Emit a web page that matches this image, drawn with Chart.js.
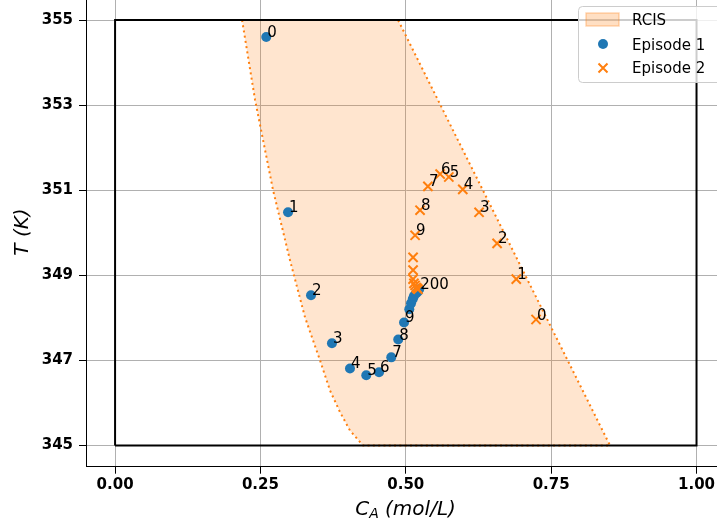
<!DOCTYPE html>
<html>
<head>
<meta charset="utf-8">
<script src="https://cdn.jsdelivr.net/npm/chart.js@4.4.1/dist/chart.umd.min.js"></script>
<style>
  html, body { margin: 0; padding: 0; overflow: hidden; background: #fff; width: 717px; height: 524px; }
  #wrap { position: absolute; left: 0; top: -10px; width: 760px; height: 534px; }
</style>
</head>
<body>
<div id="wrap"><canvas id="chart" width="760" height="534"></canvas></div>
<script>
// Episode 1 (circles) - C_A and T per step, last point is step 200
const ep1X = [0.260, 0.2975, 0.337, 0.373, 0.404, 0.432, 0.454, 0.475, 0.487, 0.497,
              0.506, 0.509, 0.512, 0.514, 0.518, 0.521, 0.523];
const ep1Y = [354.60, 350.48, 348.53, 347.40, 346.81, 346.65, 346.72, 347.07, 347.49, 347.89,
              348.20, 348.34, 348.44, 348.51, 348.58, 348.62, 348.67];

// Episode 2 (crosses)
const ep2X = [0.724, 0.690, 0.657, 0.626, 0.598, 0.574, 0.559, 0.538, 0.5245, 0.516,
              0.5125, 0.5125, 0.5125, 0.514, 0.516, 0.518, 0.5195, 0.521];
const ep2Y = [347.96, 348.91, 349.75, 350.48, 351.02, 351.31, 351.38, 351.09, 350.53, 349.94,
              349.42, 349.12, 348.91, 348.81, 348.76, 348.71, 348.69, 348.67];

const lastStep = 200;      // label of the final point
const labelledSteps = 10;  // steps 0..9 get a label

// RCIS boundaries
const rcisLeftX = [0.2184, 0.2408, 0.2717, 0.3009, 0.3267, 0.3525, 0.3697, 0.387, 0.404, 0.4265];
const rcisLeftY = [355.0, 353.12, 351.0, 349.35, 348.01, 347.0, 346.29, 345.78, 345.35, 345.0];
const rcisRightX = [0.8512, 0.4867];
const rcisRightY = [345.0, 355.0];

// constraint box
const boxX = [0, 0, 1, 1, 0];
const boxY = [345, 355, 355, 345, 345];

const xTicks = [0, 0.25, 0.5, 0.75, 1];
const yTicks = [345, 347, 349, 351, 353, 355];

const toPts = (xs, ys) => xs.map((x, i) => ({ x, y: ys[i] }));

const rcisPts = toPts(rcisLeftX, rcisLeftY).concat(toPts(rcisRightX, rcisRightY));
rcisPts.push(rcisPts[0]);

const BLUE = '#1f77b4';
const ORANGE = '#ff7f0e';
const FONT = "'DejaVu Sans'";

Chart.defaults.font.family = FONT;

// step numbers next to the markers
const stepLabels = {
  id: 'stepLabels',
  afterDatasetsDraw(chart) {
    const ctx = chart.ctx;
    ctx.save();
    ctx.font = '15px ' + FONT;
    ctx.fillStyle = '#000';
    ctx.textAlign = 'left';
    ctx.textBaseline = 'alphabetic';
    [2, 3].forEach((di) => {
      const pts = chart.getDatasetMeta(di).data;
      pts.forEach((p, i) => {
        if (i < labelledSteps) ctx.fillText(String(i), p.x + 1, p.y);
        // both episodes end at the same spot, one label is enough
        else if (di === 2 && i === pts.length - 1) ctx.fillText(String(lastStep), p.x + 1, p.y);
      });
    });
    ctx.restore();
  }
};

// axis titles + matplotlib-like legend
const decorations = {
  id: 'decorations',
  afterDraw(chart) {
    const ctx = chart.ctx;
    ctx.save();

    // x title: C_A (mol/L)
    ctx.fillStyle = '#000';
    ctx.textBaseline = 'alphabetic';
    ctx.textAlign = 'left';
    const big = 'italic 20px ' + FONT;
    const small = 'italic 14px ' + FONT;
    ctx.font = big;
    const wC = ctx.measureText('C').width;
    const wRest = ctx.measureText(' (mol/L)').width;
    ctx.font = small;
    const wA = ctx.measureText('A').width;
    let x0 = 405.5 - (wC + wA + wRest) / 2;
    const base = 525;
    ctx.font = big;
    ctx.fillText('C', x0, base);
    ctx.font = small;
    ctx.fillText('A', x0 + wC, base + 3);
    ctx.font = big;
    ctx.fillText(' (mol/L)', x0 + wC + wA, base);

    // y title
    ctx.save();
    ctx.translate(23, 242);
    ctx.rotate(-Math.PI / 2);
    ctx.textAlign = 'center';
    ctx.textBaseline = 'middle';
    ctx.font = big;
    ctx.fillText('T (K)', 0, 0);
    ctx.restore();

    // legend
    const lx = 578, ly = 16, lw = 170, lh = 76;
    ctx.beginPath();
    ctx.roundRect(lx + 0.5, ly + 0.5, lw, lh, 4);
    ctx.fillStyle = 'rgba(255,255,255,0.8)';
    ctx.fill();
    ctx.strokeStyle = '#cccccc';
    ctx.lineWidth = 1;
    ctx.stroke();

    ctx.fillStyle = 'rgba(255,127,14,0.25)';
    ctx.fillRect(586, 23, 33, 13);
    ctx.strokeStyle = 'rgba(255,127,14,0.3)';
    ctx.lineWidth = 1.5;
    ctx.strokeRect(586, 23, 33, 13);

    ctx.beginPath();
    ctx.arc(603, 54, 5, 0, Math.PI * 2);
    ctx.fillStyle = BLUE;
    ctx.fill();

    ctx.beginPath();
    ctx.strokeStyle = ORANGE;
    ctx.lineWidth = 2;
    ctx.moveTo(598.5, 73.5); ctx.lineTo(607.5, 82.5);
    ctx.moveTo(607.5, 73.5); ctx.lineTo(598.5, 82.5);
    ctx.stroke();

    ctx.fillStyle = '#000';
    ctx.font = '15px ' + FONT;
    ctx.textBaseline = 'alphabetic';
    ctx.fillText('RCIS', 632, 35);
    ctx.fillText('Episode 1', 632, 60);
    ctx.fillText('Episode 2', 632, 83);

    ctx.restore();
  }
};

new Chart(document.getElementById('chart'), {
  type: 'scatter',
  data: {
    datasets: [
      {
        label: 'RCIS',
        data: rcisPts,
        showLine: true,
        fill: 'shape',
        backgroundColor: 'rgba(255,127,14,0.2)',
        borderColor: ORANGE,
        borderWidth: 2,
        borderDash: [2, 3.3],
        pointRadius: 0,
        tension: 0,
        order: 4
      },
      {
        label: 'box',
        data: toPts(boxX, boxY),
        showLine: true,
        fill: false,
        borderColor: '#000',
        borderWidth: 2,
        pointRadius: 0,
        order: 3
      },
      {
        label: 'Episode 1',
        data: toPts(ep1X, ep1Y),
        pointStyle: 'circle',
        pointRadius: 5,
        backgroundColor: BLUE,
        borderColor: BLUE,
        borderWidth: 0,
        order: 2
      },
      {
        label: 'Episode 2',
        data: toPts(ep2X, ep2Y),
        pointStyle: 'crossRot',
        pointRadius: 6.5,
        borderColor: ORANGE,
        backgroundColor: ORANGE,
        borderWidth: 2,
        order: 1
      }
    ]
  },
  options: {
    responsive: false,
    animation: false,
    layout: { padding: { top: 8.75, right: 34.4, bottom: 0, left: 0 } },
    plugins: {
      legend: { display: false },
      tooltip: { enabled: false }
    },
    scales: {
      x: {
        type: 'linear',
        min: -0.05,
        max: 1.05,
        afterBuildTicks: (s) => { s.ticks = xTicks.map((v) => ({ value: v })); },
        afterFit: (s) => { s.height = 57.3; s.paddingLeft = 0; s.paddingRight = 0; },
        grid: { color: '#b0b0b0', lineWidth: 1, tickColor: '#000', tickLength: 7 },
        border: { color: '#000', width: 1 },
        ticks: {
          color: '#000',
          padding: 2,
          autoSkip: false,
          maxRotation: 0,
          font: { size: 15, weight: 'bold' },
          callback: (v) => Number(v).toFixed(2)
        }
      },
      y: {
        type: 'linear',
        min: 344.5,
        max: 355.5,
        afterBuildTicks: (s) => { s.ticks = yTicks.map((v) => ({ value: v })); },
        afterFit: (s) => { s.width = 86; s.paddingTop = 0; s.paddingBottom = 0; },
        grid: { color: '#b0b0b0', lineWidth: 1, tickColor: '#000', tickLength: 7 },
        border: { color: '#000', width: 1 },
        ticks: {
          color: '#000',
          padding: 6,
          autoSkip: false,
          font: { size: 15, weight: 'bold' },
          callback: (v) => String(v)
        }
      }
    }
  },
  plugins: [stepLabels, decorations]
});
</script>
</body>
</html>
